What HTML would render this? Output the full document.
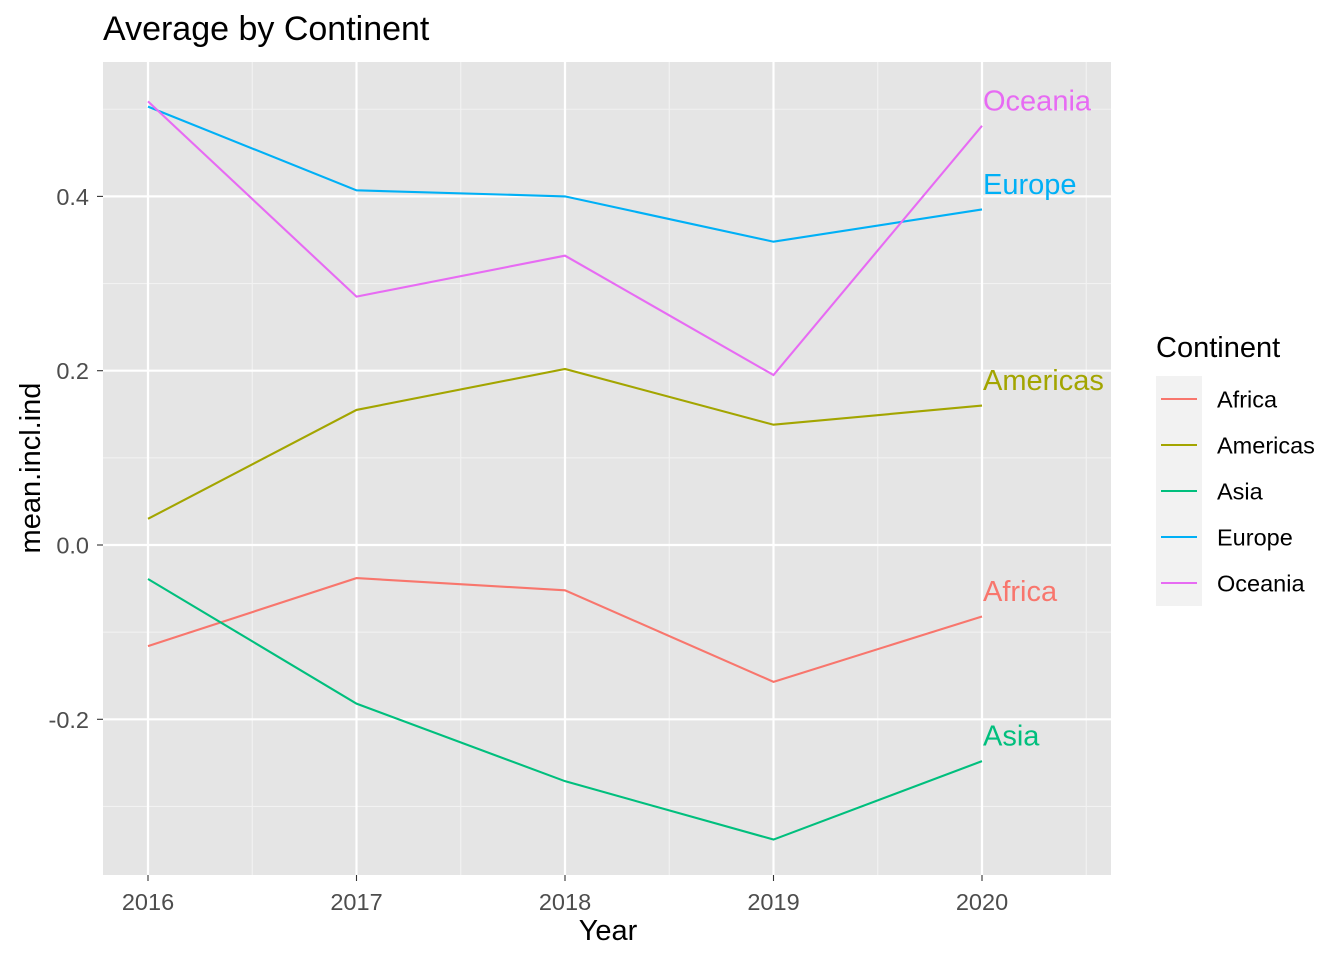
<!DOCTYPE html>
<html><head><meta charset="utf-8"><style>
body{margin:0;background:#fff}
svg text{font-family:"Liberation Sans",Arial,sans-serif}
</style></head><body>
<svg id="chart" width="1344" height="960" xmlns="http://www.w3.org/2000/svg">
<rect width="1344" height="960" fill="#fff"/>
<text x="103" y="40" font-size="34" fill="#000">Average by Continent</text>
<rect x="103" y="62" width="1008" height="813" fill="#E5E5E5"/>
<g id="grid"></g>
<g id="lines"></g>
<g id="axes"></g>
<text x="608" y="940" font-size="29" text-anchor="middle">Year</text>
<text transform="translate(40,468) rotate(-90)" font-size="29" text-anchor="middle">mean.incl.ind</text>
<g id="legend">
<text x="1156" y="357" font-size="29">Continent</text>
<rect x="1156" y="376" width="46" height="230" fill="#F2F2F2"/>
</g>
</svg>
<script>
const years=[2016,2017,2018,2019,2020];
const seriesNames=["Africa","Americas","Asia","Europe","Oceania"];
const colors=["#F8766D","#A3A500","#00BF7D","#00B0F6","#E76BF3"];
const africa=[-0.116,-0.038,-0.052,-0.157,-0.082];
const americas=[0.030,0.155,0.202,0.138,0.160];
const asia=[-0.039,-0.182,-0.271,-0.338,-0.248];
const europe=[0.503,0.407,0.400,0.348,0.385];
const oceania=[0.509,0.285,0.332,0.195,0.481];
const yTicks=[-0.2,0.0,0.2,0.4];
const yTickLabels=["-0.2","0.0","0.2","0.4"];
const allSeries=[africa,americas,asia,europe,oceania];
const NS="http://www.w3.org/2000/svg";
function xs(v){return 148+(v-2016)*208.5;}
function ys(v){return 545-871.5*v;}
function mk(tag,attrs,parent){const e=document.createElementNS(NS,tag);for(const k in attrs)e.setAttribute(k,attrs[k]);parent.appendChild(e);return e;}
const grid=document.getElementById('grid'),lines=document.getElementById('lines'),axes=document.getElementById('axes'),legend=document.getElementById('legend');
for(let i=0;i<yTicks.length+1;i++){const v=yTicks[0]-0.1+i*0.2;const y=ys(v);if(y>62&&y<875){const l=mk('line',{x1:103,x2:1111,y1:y,y2:y,stroke:'#F2F2F2','stroke-width':1.1},grid);}}
for(let i=0;i<years.length;i++){const x=xs(years[i]+0.5);if(x<1111){const l=mk('line',{x1:x,x2:x,y1:62,y2:875,stroke:'#F2F2F2','stroke-width':1.1},grid);}}
yTicks.forEach((v,i)=>{const y=ys(v);const l=mk('line',{x1:103,x2:1111,y1:y,y2:y,stroke:'#fff','stroke-width':2.2},grid);
mk('line',{x1:97,x2:103,y1:y,y2:y,stroke:'#333','stroke-width':1.1},axes);
const t=mk('text',{x:89,y:y+8.5,'font-size':23.5,fill:'#4D4D4D','text-anchor':'end'},axes);t.textContent=yTickLabels[i];});
years.forEach(v=>{const x=xs(v);const l=mk('line',{x1:x,x2:x,y1:62,y2:875,stroke:'#fff','stroke-width':2.2},grid);
mk('line',{x1:x,x2:x,y1:875,y2:881,stroke:'#333','stroke-width':1.1},axes);
const t=mk('text',{x:x,y:910,'font-size':23.5,fill:'#4D4D4D','text-anchor':'middle'},axes);t.textContent=v;});
allSeries.forEach((s,i)=>{const pts=s.map((v,j)=>xs(years[j])+','+ys(v)).join(' ');
const p=mk('polyline',{points:pts,fill:'none',stroke:colors[i],'stroke-width':2.1},lines);


const last=s[s.length-1];
const t=mk('text',{x:xs(years[years.length-1])+1,y:ys(last)-15.5,'font-size':29,fill:colors[i]},lines);t.textContent=seriesNames[i];


const ly=399+i*46;
mk('line',{x1:1161,x2:1197,y1:ly,y2:ly,stroke:colors[i],'stroke-width':2.1},legend);
const lt=mk('text',{x:1217,y:ly+8.5,'font-size':23.5},legend);lt.textContent=seriesNames[i];

});
</script>
</body></html>
